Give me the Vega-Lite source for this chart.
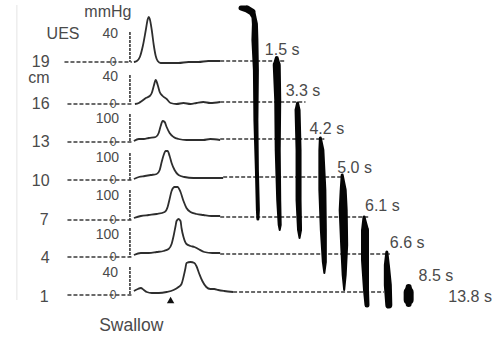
{
  "$schema": "https://vega.github.io/schema/vega-lite/v6.json",
  "width": 492,
  "height": 337,
  "autosize": {"type": "fit", "contains": "padding"},
  "padding": 0,
  "background": "white",
  "config": {"view": {"stroke": null}, "text": {"font": "Liberation Sans", "fontSize": 16, "fill": "#4a4a4a"}},
  "datasets": {
    "traces": [
      {"row":"19","x":135,"y":62},{"row":"19","x":138,"y":61},{"row":"19","x":141,"y":57},{"row":"19","x":144,"y":46},{"row":"19","x":147,"y":30},{"row":"19","x":149,"y":19},{"row":"19","x":150,"y":17},{"row":"19","x":151,"y":19},{"row":"19","x":153,"y":30},{"row":"19","x":155,"y":45},{"row":"19","x":157,"y":56},{"row":"19","x":159,"y":61},{"row":"19","x":162,"y":63},{"row":"19","x":170,"y":63},{"row":"19","x":180,"y":63},{"row":"19","x":190,"y":62},{"row":"19","x":200,"y":62},{"row":"19","x":210,"y":61},{"row":"19","x":222,"y":61},
      {"row":"16","x":136,"y":104},{"row":"16","x":140,"y":103},{"row":"16","x":143,"y":101},{"row":"16","x":147,"y":98},{"row":"16","x":151,"y":96},{"row":"16","x":153,"y":93},{"row":"16","x":155,"y":86},{"row":"16","x":157,"y":80},{"row":"16","x":159,"y":85},{"row":"16","x":161,"y":92},{"row":"16","x":164,"y":96},{"row":"16","x":168,"y":99},{"row":"16","x":172,"y":103},{"row":"16","x":178,"y":104},{"row":"16","x":185,"y":103},{"row":"16","x":192,"y":104},{"row":"16","x":198,"y":103},{"row":"16","x":205,"y":102},{"row":"16","x":212,"y":103},{"row":"16","x":222,"y":102},
      {"row":"13","x":135,"y":141},{"row":"13","x":140,"y":139},{"row":"13","x":145,"y":139},{"row":"13","x":150,"y":138},{"row":"13","x":157,"y":137},{"row":"13","x":160,"y":133},{"row":"13","x":162,"y":126},{"row":"13","x":164,"y":121},{"row":"13","x":166,"y":122},{"row":"13","x":168,"y":127},{"row":"13","x":171,"y":133},{"row":"13","x":175,"y":137},{"row":"13","x":180,"y":139},{"row":"13","x":188,"y":140},{"row":"13","x":196,"y":140},{"row":"13","x":205,"y":140},{"row":"13","x":212,"y":139},{"row":"13","x":222,"y":140},
      {"row":"10","x":135,"y":179},{"row":"10","x":140,"y":177},{"row":"10","x":146,"y":176},{"row":"10","x":152,"y":175},{"row":"10","x":158,"y":174},{"row":"10","x":161,"y":170},{"row":"10","x":163,"y":162},{"row":"10","x":165,"y":155},{"row":"10","x":167,"y":151},{"row":"10","x":169,"y":151},{"row":"10","x":171,"y":156},{"row":"10","x":173,"y":163},{"row":"10","x":176,"y":170},{"row":"10","x":180,"y":175},{"row":"10","x":186,"y":177},{"row":"10","x":195,"y":178},{"row":"10","x":205,"y":178},{"row":"10","x":215,"y":178},{"row":"10","x":225,"y":178},
      {"row":"7","x":135,"y":218},{"row":"7","x":142,"y":216},{"row":"7","x":150,"y":215},{"row":"7","x":158,"y":214},{"row":"7","x":166,"y":212},{"row":"7","x":169,"y":207},{"row":"7","x":171,"y":199},{"row":"7","x":173,"y":191},{"row":"7","x":176,"y":187},{"row":"7","x":179,"y":187},{"row":"7","x":182,"y":192},{"row":"7","x":185,"y":201},{"row":"7","x":188,"y":208},{"row":"7","x":192,"y":212},{"row":"7","x":198,"y":214},{"row":"7","x":205,"y":215},{"row":"7","x":213,"y":216},{"row":"7","x":222,"y":216},
      {"row":"4","x":135,"y":255},{"row":"4","x":142,"y":253},{"row":"4","x":150,"y":253},{"row":"4","x":158,"y":252},{"row":"4","x":165,"y":251},{"row":"4","x":170,"y":249},{"row":"4","x":173,"y":244},{"row":"4","x":175,"y":236},{"row":"4","x":177,"y":226},{"row":"4","x":178,"y":221},{"row":"4","x":180,"y":219},{"row":"4","x":182,"y":221},{"row":"4","x":183,"y":228},{"row":"4","x":185,"y":237},{"row":"4","x":188,"y":244},{"row":"4","x":192,"y":246},{"row":"4","x":196,"y":247},{"row":"4","x":200,"y":249},{"row":"4","x":206,"y":252},{"row":"4","x":214,"y":253},{"row":"4","x":222,"y":253},
      {"row":"1","x":135,"y":291},{"row":"1","x":139,"y":289},{"row":"1","x":142,"y":288},{"row":"1","x":145,"y":290},{"row":"1","x":148,"y":292},{"row":"1","x":153,"y":293},{"row":"1","x":160,"y":293},{"row":"1","x":168,"y":292},{"row":"1","x":175,"y":290},{"row":"1","x":180,"y":287},{"row":"1","x":183,"y":284},{"row":"1","x":185,"y":277},{"row":"1","x":187,"y":268},{"row":"1","x":188,"y":263},{"row":"1","x":192,"y":262},{"row":"1","x":196,"y":263},{"row":"1","x":198,"y":266},{"row":"1","x":201,"y":274},{"row":"1","x":204,"y":281},{"row":"1","x":208,"y":287},{"row":"1","x":212,"y":289},{"row":"1","x":216,"y":289},{"row":"1","x":220,"y":290},{"row":"1","x":226,"y":291},{"row":"1","x":235,"y":292}
    ],
    "dashed": [
      {"x":65,"x2":133,"y":62},{"x":68,"x2":133,"y":104},{"x":68,"x2":133,"y":142},{"x":68,"x2":133,"y":180},{"x":68,"x2":133,"y":220},{"x":68,"x2":133,"y":257},{"x":68,"x2":133,"y":295},
      {"x":222,"x2":287,"y":61},{"x":222,"x2":308,"y":102},{"x":222,"x2":327,"y":139},{"x":225,"x2":345,"y":177},{"x":222,"x2":372,"y":217},{"x":222,"x2":393,"y":254},{"x":235,"x2":387,"y":292}
    ],
    "scalebars": [
      {"x":131,"y":32,"y2":62},{"x":131,"y":75,"y2":103},{"x":131,"y":114,"y2":141},{"x":131,"y":153,"y2":180},{"x":131,"y":190,"y2":220},{"x":131,"y":228,"y2":257},{"x":131,"y":267,"y2":295}
    ],
    "bars": [
      {"bar":1,"i":1,"x":243,"y":8,"w":5},{"bar":1,"i":2,"x":249,"y":9,"w":7},{"bar":1,"i":3,"x":254,"y":12,"w":7},{"bar":1,"i":4,"x":256,"y":17,"w":5},{"bar":1,"i":5,"x":257,"y":24,"w":6},{"bar":1,"i":6,"x":257,"y":40,"w":7},{"bar":1,"i":7,"x":258,"y":70,"w":6},{"bar":1,"i":8,"x":258,"y":120,"w":5},{"bar":1,"i":9,"x":259,"y":170,"w":4},{"bar":1,"i":10,"x":260,"y":210,"w":4},{"bar":1,"i":11,"x":260,"y":219,"w":3},
      {"bar":2,"i":1,"x":279,"y":58,"w":4},{"bar":2,"i":2,"x":279,"y":65,"w":8},{"bar":2,"i":3,"x":280,"y":100,"w":7},{"bar":2,"i":4,"x":280,"y":150,"w":6},{"bar":2,"i":5,"x":281,"y":200,"w":5},{"bar":2,"i":6,"x":282,"y":225,"w":4},{"bar":2,"i":7,"x":282,"y":230,"w":2},
      {"bar":3,"i":1,"x":300,"y":103,"w":3},{"bar":3,"i":2,"x":300,"y":110,"w":6},{"bar":3,"i":3,"x":301,"y":150,"w":6},{"bar":3,"i":4,"x":301,"y":200,"w":6},{"bar":3,"i":5,"x":302,"y":230,"w":5},{"bar":3,"i":6,"x":302,"y":238,"w":2},
      {"bar":4,"i":1,"x":323,"y":138,"w":3},{"bar":4,"i":2,"x":324,"y":150,"w":6},{"bar":4,"i":3,"x":325,"y":190,"w":8},{"bar":4,"i":4,"x":326,"y":230,"w":7},{"bar":4,"i":5,"x":327,"y":262,"w":5},{"bar":4,"i":6,"x":327,"y":273,"w":2},
      {"bar":5,"i":1,"x":345,"y":175,"w":3},{"bar":5,"i":2,"x":346,"y":190,"w":7},{"bar":5,"i":3,"x":346,"y":210,"w":9},{"bar":5,"i":4,"x":347,"y":245,"w":8},{"bar":5,"i":5,"x":347,"y":275,"w":5},{"bar":5,"i":6,"x":347,"y":290,"w":2},
      {"bar":6,"i":1,"x":367,"y":217,"w":3},{"bar":6,"i":2,"x":368,"y":230,"w":8},{"bar":6,"i":3,"x":368,"y":260,"w":8},{"bar":6,"i":4,"x":369,"y":290,"w":6},{"bar":6,"i":5,"x":370,"y":305,"w":5},
      {"bar":7,"i":1,"x":390,"y":252,"w":3},{"bar":7,"i":2,"x":390,"y":265,"w":6},{"bar":7,"i":3,"x":391,"y":285,"w":8},{"bar":7,"i":4,"x":392,"y":305,"w":7},
      {"bar":8,"i":1,"x":412,"y":287,"w":6},{"bar":8,"i":2,"x":412,"y":292,"w":10},{"bar":8,"i":3,"x":412,"y":300,"w":10},{"bar":8,"i":4,"x":412,"y":304,"w":6}
    ],
    "rowLabels": [
      {"x":50,"y":62,"t":"19"},{"x":50,"y":78,"t":"cm"},{"x":50,"y":104,"t":"16"},{"x":50,"y":142,"t":"13"},{"x":50,"y":181,"t":"10"},{"x":49,"y":220,"t":"7"},{"x":50,"y":258,"t":"4"},{"x":49,"y":297,"t":"1"}
    ],
    "scaleLabels": [
      {"x":119,"y":34,"t":"40"},{"x":119,"y":77,"t":"40"},{"x":120,"y":119,"t":"100"},{"x":120,"y":158,"t":"100"},{"x":120,"y":196,"t":"100"},{"x":120,"y":235,"t":"100"},{"x":119,"y":273,"t":"40"}
    ],
    "zeros": [
      {"x":114,"y":62,"t":"0"},{"x":114,"y":104,"t":"0"},{"x":114,"y":142,"t":"0"},{"x":114,"y":180,"t":"0"},{"x":114,"y":220,"t":"0"},{"x":114,"y":257,"t":"0"},{"x":114,"y":295,"t":"0"}
    ],
    "leftLabels": [
      {"x":47,"y":34,"t":"UES"},{"x":85,"y":12,"t":"mmHg"},
      {"x":267,"y":50,"t":"1.5 s"},{"x":288,"y":91,"t":"3.3 s"},{"x":312,"y":129,"t":"4.2 s"},{"x":340,"y":168,"t":"5.0 s"},{"x":368,"y":206,"t":"6.1 s"},{"x":393,"y":243,"t":"6.6 s"},{"x":422,"y":276,"t":"8.5 s"},{"x":452,"y":297,"t":"13.8 s"}
    ]
  },
  "encoding": {
    "x": {"field": "x", "type": "quantitative", "scale": {"domain": [0, 492], "nice": false, "zero": false}, "axis": null},
    "y": {"field": "y", "type": "quantitative", "scale": {"domain": [0, 337], "nice": false, "zero": false, "reverse": true}, "axis": null}
  },
  "layer": [
    {"data": {"values": [{"x":17,"y":5,"y2":300}]}, "mark": {"type": "rule", "color": "#e4e4e4", "strokeWidth": 1}, "encoding": {"y2": {"field": "y2"}}},
    {"data": {"name": "dashed"}, "mark": {"type": "rule", "color": "#3a3a3a", "strokeWidth": 1.4, "strokeDash": [4, 2]}, "encoding": {"x2": {"field": "x2"}}},
    {"data": {"name": "scalebars"}, "mark": {"type": "rule", "color": "#3a3a3a", "strokeWidth": 1.6, "strokeDash": [3, 1]}, "encoding": {"y2": {"field": "y2"}}},
    {"data": {"name": "traces"}, "mark": {"type": "line", "color": "#2e2e2e", "strokeWidth": 1.8, "interpolate": "monotone"}, "encoding": {"detail": {"field": "row"}}},
    {"data": {"name": "bars"}, "mark": {"type": "trail", "color": "#050505"}, "encoding": {"detail": {"field": "bar"}, "order": {"field": "i", "type": "quantitative"}, "size": {"field": "w", "type": "quantitative", "scale": {"type": "linear", "domain": [0, 10], "range": [0, 10]}, "legend": null}}},
    {"data": {"values": [{"x":172,"y":300}]}, "mark": {"type": "point", "shape": "triangle-up", "filled": true, "color": "#111", "opacity": 1, "size": 55}},
    {"data": {"name": "rowLabels"}, "mark": {"type": "text", "align": "right", "baseline": "middle"}, "encoding": {"text": {"field": "t"}}},
    {"data": {"name": "scaleLabels"}, "mark": {"type": "text", "align": "right", "baseline": "middle", "fontSize": 14}, "encoding": {"text": {"field": "t"}}},
    {"data": {"name": "zeros"}, "mark": {"type": "text", "align": "center", "baseline": "middle", "fontSize": 12}, "encoding": {"text": {"field": "t"}}},
    {"data": {"name": "leftLabels"}, "mark": {"type": "text", "align": "left", "baseline": "middle"}, "encoding": {"text": {"field": "t"}}},
    {"data": {"values": [{"x":100,"y":326,"t":"Swallow"}]}, "mark": {"type": "text", "align": "left", "baseline": "middle", "fontSize": 17.5}, "encoding": {"text": {"field": "t"}}}
  ]
}
